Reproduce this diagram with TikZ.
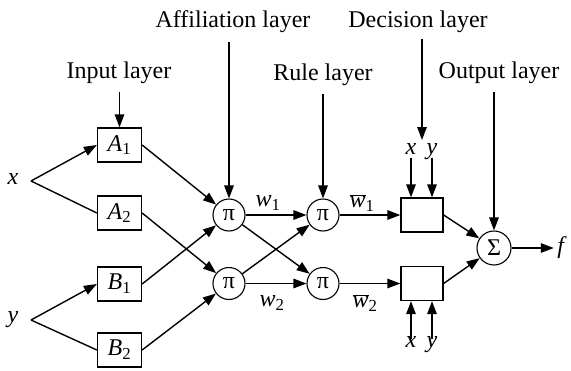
\documentclass[tikz,border=0pt]{standalone}
\usepackage{fontspec}
\setmainfont{Liberation Serif}
\usetikzlibrary{positioning,arrows.meta}
\newcommand{\vname}[1]{\textit{#1}}
\newcommand{\wbar}[1]{$\overline{\mbox{\itshape w}}$\textsubscript{#1}}

\begin{document}
\begin{tikzpicture}[
  x=1pt, y=-1pt,
  font=\fontsize{24}{27}\selectfont,
  blk/.style={draw, line width=1.3pt, minimum width=44pt, minimum height=34pt, inner sep=0pt},
  node/.style={draw, circle, line width=1.1pt, minimum size=32pt, inner sep=0pt},
  var/.style={inner sep=1pt, text height=1.4ex, text depth=.5ex},
  arrow/.style={-{Triangle[length=13pt,width=9.5pt]}, line width=1.4pt},
  link/.style={line width=1.4pt}
]
\useasboundingbox (0,0) rectangle (571,370);
% layer titles
\node (inl)  at (119,73)  {Input layer};
\node (affl) at (233,22)  {Affiliation layer};
\node (rull) at (323,75)  {Rule layer};
\node (decl) at (418,22)  {Decision layer};
\node (outl) at (499,73)  {Output layer};
% inputs and membership blocks
\coordinate (xs) at (31,181);
\coordinate (ys) at (31,320);
\node[var] (xin) at (13,182) {\vname{x}};
\node[var] (yin) at (13,320) {\vname{y}};
\node[blk] (A1) at (119.5,145) {\vname{A}\textsubscript{1}};
\node[blk] (A2) at (119.5,213) {\vname{A}\textsubscript{2}};
\node[blk] (B1) at (119.5,284) {\vname{B}\textsubscript{1}};
\node[blk] (B2) at (119.5,350) {\vname{B}\textsubscript{2}};
% product and rule nodes
\node[node] (P1) at (229,215) {π};
\node[node] (P2) at (229,283.5) {π};
\node[node] (R1) at (323,215) {π};
\node[node] (R2) at (323,283.5) {π};
% decision blocks and sum
\node[blk, minimum width=42pt] (D1) at (422,215) {};
\node[blk, minimum width=42pt] (D2) at (422,283.5) {};
\node[node, minimum size=34pt] (S) at (494,248) {Σ};
\node (f) at (562,248) {\vname{f}};
\node[var] (dx1) at (411,152) {\vname{x}};
\node[var] (dy1) at (432,152) {\vname{y}};
\node[var] (dx2) at (411,345) {\vname{x}};
\node[var] (dy2) at (432,345) {\vname{y}};
\coordinate (dend) at (422,140);
% weights
\node (w1)  at (268,203) {\vname{w}\textsubscript{1}};
\node (w2)  at (272,303) {\vname{w}\textsubscript{2}};
\node (wb1) at (362,203) {\wbar{1}};
\node (wb2) at (365,303) {\wbar{2}};

\draw[arrow, shorten <=5pt] (inl.south -| A1) -- (A1.north);
\draw[arrow, shorten <=5pt] (affl.south -| P1) -- (P1.north);
\draw[arrow, shorten <=5pt] (rull.south -| R1) -- (R1.north);
\draw[arrow, shorten <=3pt] (decl.south -| D1) -- (dend);
\draw[arrow, shorten <=5pt] (outl.south -| S) -- (S.north);

\draw[arrow] (xs) -- (A1.west);
\draw[link]  (xs) -- (A2.west);
\draw[arrow] (ys) -- (B1.west);
\draw[link]  (ys) -- (B2.west);

\draw[arrow] (A1.east) -- (P1);
\draw[arrow] (A2.east) -- (P2);
\draw[arrow] (B1.east) -- (P1);
\draw[arrow] (B2.east) -- (P2);

\draw[arrow] (P1) -- (R1);
\draw[arrow] (P1) -- (R2);
\draw[arrow] (P2) -- (R1);
\draw[arrow] (P2) -- (R2);

\draw[arrow] (R1) -- (D1.west);
\draw[arrow] (R2) -- (D2.west);

\draw[arrow] (dx1.south) -- (dx1.south |- D1.north);
\draw[arrow] (dy1.south) -- (dy1.south |- D1.north);
\draw[arrow] (dx2.north) -- (dx2.north |- D2.south);
\draw[arrow] (dy2.north) -- (dy2.north |- D2.south);

\draw[arrow] (D1.east) -- (S);
\draw[arrow] (D2.east) -- (S);
\draw[arrow] (S) -- (f.west);
\end{tikzpicture}
\end{document}
